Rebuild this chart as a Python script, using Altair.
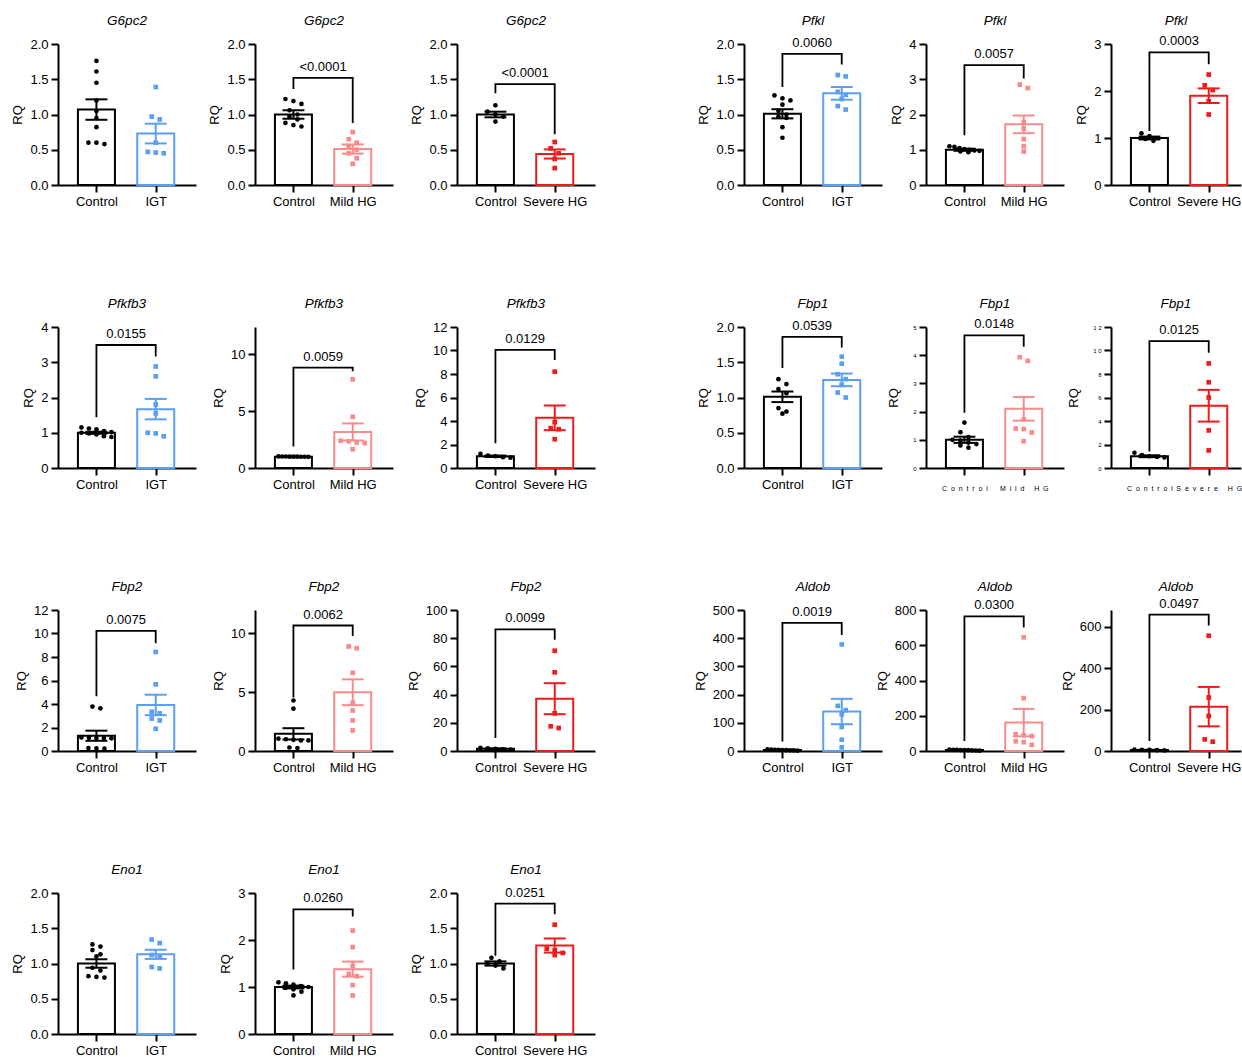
import altair as alt
import pandas as pd

FONT = "Liberation Sans"

# ---- panel identity -------------------------------------------------------
genes = ["G6pc2", "G6pc2", "G6pc2", "Pfkl", "Pfkl", "Pfkl",
         "Pfkfb3", "Pfkfb3", "Pfkfb3", "Fbp1", "Fbp1", "Fbp1",
         "Fbp2", "Fbp2", "Fbp2", "Aldob", "Aldob", "Aldob",
         "Eno1", "Eno1", "Eno1"]
cohorts = ["IGT", "Mild HG", "Severe HG"] * 7
group_names = ["Control", "IGT", "Mild HG", "Severe HG"]
group_colors = ["#000000", "#5b9ff0", "#f88b8b", "#ef1b1b"]
group_shapes = ["circle", "square", "square", "square"]

# ---- y axes ---------------------------------------------------------------
y_max = [2, 2, 2, 2, 4, 3, 4, 12.4, 12, 2, 5, 12,
         12, 12, 100, 500, 800, 680, 2, 3, 2]
y_step = [0.5, 0.5, 0.5, 0.5, 1, 1, 1, 5, 2, 0.5, 1, 2,
          2, 5, 20, 100, 200, 200, 0.5, 1, 0.5]

# ---- bar heights (mean) and SEM ------------------------------------------
ctrl_mean = [1.07, 1.00, 1.00, 1.01, 1.00, 1.00, 1.00, 1.00, 1.00, 1.01, 1.00, 1.00,
             1.30, 1.46, 1.55, 3.5, 5.0, 5.0, 1.00, 1.00, 1.00]
ctrl_sem = [0.145, 0.06, 0.04, 0.065, 0.03, 0.03, 0.03, 0.01, 0.06, 0.075, 0.11, 0.08,
            0.43, 0.48, 0.3, 0.6, 0.8, 0.8, 0.06, 0.03, 0.03]
trt_mean = [0.73, 0.51, 0.44, 1.30, 1.72, 1.90, 1.67, 3.17, 4.27, 1.25, 2.10, 5.30,
            3.92, 5.00, 37.1, 140, 161, 214, 1.13, 1.38, 1.255]
trt_sem = [0.14, 0.065, 0.065, 0.09, 0.25, 0.155, 0.29, 0.75, 1.05, 0.09, 0.42, 1.35,
           0.87, 1.1, 11.0, 45, 78, 95, 0.065, 0.16, 0.10]

# ---- significance brackets -----------------------------------------------
p_labels = ["", "<0.0001", "<0.0001", "0.0060", "0.0057", "0.0003",
            "0.0155", "0.0059", "0.0129", "0.0539", "0.0148", "0.0125",
            "0.0075", "0.0062", "0.0099", "0.0019", "0.0300", "0.0497",
            "", "0.0260", "0.0251"]
bracket_top = [0, 1.52, 1.43, 1.86, 3.40, 2.82, 3.49, 8.82, 10.05, 1.86, 4.7, 10.8,
               10.23, 10.68, 86.2, 454, 764, 658, 0, 2.65, 1.85]
bracket_left = [0, 1.36, 1.30, 1.39, 1.41, 1.15, 1.44, 1.9, 2.1, 1.42, 1.96, 1.4,
                4.65, 4.56, 9.2, 34, 57, 48, 0, 1.37, 1.11]
bracket_right = [0, 0.88, 0.72, 1.71, 3.02, 2.57, 3.16, 8.5, 9.2, 1.71, 4.3, 9.8,
                 9.16, 9.78, 78.9, 411, 701, 605, 0, 2.5, 1.7]

# ---- individual animals (RQ) ----------------------------------------------
g6pc2_igt_ctrl = [1.76, 1.61, 1.45, 1.20, 1.05, 0.95, 0.82, 0.60, 0.58, 0.60]
g6pc2_igt_trt = [1.39, 0.97, 0.93, 0.60, 0.47, 0.46, 0.45]
g6pc2_mild_ctrl = [1.22, 1.19, 1.15, 1.06, 1.00, 0.97, 0.93, 0.88, 0.85, 0.83]
g6pc2_mild_trt = [0.75, 0.65, 0.60, 0.55, 0.50, 0.45, 0.38, 0.30]
g6pc2_severe_ctrl = [1.13, 1.04, 1.00, 0.97, 0.90]
g6pc2_severe_trt = [0.61, 0.52, 0.45, 0.37, 0.24]

pfkl_igt_ctrl = [1.27, 1.23, 1.20, 1.14, 1.05, 1.00, 0.97, 0.95, 0.82, 0.67]
pfkl_igt_trt = [1.56, 1.54, 1.32, 1.28, 1.22, 1.12, 1.07]
pfkl_mild_ctrl = [1.10, 1.08, 1.05, 1.02, 1.00, 0.98, 0.97, 0.95, 0.93]
pfkl_mild_trt = [2.85, 2.75, 1.78, 1.60, 1.30, 1.10, 0.95]
pfkl_severe_ctrl = [1.10, 1.04, 1.00, 0.98, 0.94]
pfkl_severe_trt = [2.35, 2.12, 2.02, 1.78, 1.50]

pfkfb3_igt_ctrl = [1.15, 1.12, 1.10, 1.05, 1.02, 1.00, 0.98, 0.95, 0.90, 0.88]
pfkfb3_igt_trt = [2.88, 2.60, 1.80, 1.55, 1.00, 0.98, 0.90]
pfkfb3_mild_ctrl = [1.02, 1.01, 1.01, 1.00, 1.00, 1.00, 0.99, 0.99, 0.98]
pfkfb3_mild_trt = [7.80, 4.50, 2.40, 2.35, 2.25, 2.20, 1.65]
pfkfb3_severe_ctrl = [1.20, 1.05, 1.00, 0.92, 0.88]
pfkfb3_severe_trt = [8.20, 3.90, 3.40, 3.30, 2.45]

fbp1_igt_ctrl = [1.26, 1.19, 1.12, 1.06, 0.85, 0.80, 0.77]
fbp1_igt_trt = [1.58, 1.48, 1.33, 1.26, 1.18, 1.07, 1.00]
fbp1_mild_ctrl = [1.61, 1.27, 1.10, 1.00, 0.97, 0.90, 0.85, 0.80, 0.72]
fbp1_mild_trt = [3.93, 3.80, 1.72, 1.40, 1.38, 1.26, 0.95]
fbp1_severe_ctrl = [1.30, 1.10, 1.00, 0.95, 0.90]
fbp1_severe_trt = [8.90, 7.30, 6.00, 3.20, 1.50]

fbp2_igt_ctrl = [3.78, 3.63, 1.15, 1.12, 1.10, 1.10, 1.08, 0.25, 0.22, 0.20]
fbp2_igt_trt = [8.43, 5.67, 3.34, 3.20, 2.76, 2.60, 1.89]
fbp2_mild_ctrl = [4.30, 3.60, 1.05, 1.00, 0.95, 0.90, 0.90, 0.30, 0.25]
fbp2_mild_trt = [8.90, 8.75, 6.65, 4.10, 3.45, 2.60, 1.75]
fbp2_severe_ctrl = [2.20, 1.80, 1.50, 1.20, 1.00]
fbp2_severe_trt = [71.1, 55.8, 26.7, 17.5, 16.3]

aldob_igt_ctrl = [6.0, 5.0, 4.5, 4.0, 3.5, 3.0, 2.5, 2.0, 1.5]
aldob_igt_trt = [378, 160, 145, 130, 85, 40, 13]
aldob_mild_ctrl = [8.0, 7.0, 6.0, 5.5, 5.0, 4.5, 4.0, 3.0, 2.0]
aldob_mild_trt = [645, 300, 95, 90, 85, 55, 50, 35]
aldob_severe_ctrl = [7.0, 6.0, 5.0, 4.0, 3.0]
aldob_severe_trt = [556, 258, 169, 56, 45]

eno1_igt_ctrl = [1.27, 1.24, 1.19, 1.13, 1.10, 0.94, 0.90, 0.82, 0.81, 0.80]
eno1_igt_trt = [1.34, 1.29, 1.12, 1.10, 0.95, 0.93]
eno1_mild_ctrl = [1.10, 1.08, 1.05, 1.02, 1.00, 0.98, 0.95, 0.90, 0.82]
eno1_mild_trt = [2.20, 1.85, 1.45, 1.28, 1.23, 1.04, 0.82]
eno1_severe_ctrl = [1.08, 1.03, 1.00, 0.97, 0.93]
eno1_severe_trt = [1.55, 1.21, 1.19, 1.15, 1.12]

control_points = [g6pc2_igt_ctrl, g6pc2_mild_ctrl, g6pc2_severe_ctrl,
                  pfkl_igt_ctrl, pfkl_mild_ctrl, pfkl_severe_ctrl,
                  pfkfb3_igt_ctrl, pfkfb3_mild_ctrl, pfkfb3_severe_ctrl,
                  fbp1_igt_ctrl, fbp1_mild_ctrl, fbp1_severe_ctrl,
                  fbp2_igt_ctrl, fbp2_mild_ctrl, fbp2_severe_ctrl,
                  aldob_igt_ctrl, aldob_mild_ctrl, aldob_severe_ctrl,
                  eno1_igt_ctrl, eno1_mild_ctrl, eno1_severe_ctrl]
treated_points = [g6pc2_igt_trt, g6pc2_mild_trt, g6pc2_severe_trt,
                  pfkl_igt_trt, pfkl_mild_trt, pfkl_severe_trt,
                  pfkfb3_igt_trt, pfkfb3_mild_trt, pfkfb3_severe_trt,
                  fbp1_igt_trt, fbp1_mild_trt, fbp1_severe_trt,
                  fbp2_igt_trt, fbp2_mild_trt, fbp2_severe_trt,
                  aldob_igt_trt, aldob_mild_trt, aldob_severe_trt,
                  eno1_igt_trt, eno1_mild_trt, eno1_severe_trt]

# ---- geometry (in x-scale units: one unit = distance between the two bars)
STEP_PX = 59.3      # pixels between the two category centres
X_LEFT = -0.648     # left end of the x axis
BAR_HALF = 0.312    # half bar width
CAP_HALF = 0.185    # half error-bar cap width
PLOT_H = 141
TITLE_GAP = 17      # gene name baseline above the plot frame
P_FONT = 13
P_DY = 4

COLOR_SCALE = alt.Scale(domain=group_names, range=group_colors)
SHAPE_SCALE = alt.Scale(domain=group_names, range=group_shapes)


def swarm(values, px_per_unit, dot=5.0, gap=8.0, max_spread=30.0):
    """Spread points with (nearly) equal values sideways, GraphPad style."""
    order = sorted(range(len(values)), key=lambda k: -values[k])
    rows = []
    for k in order:
        if rows and (values[rows[-1][0]] - values[k]) * px_per_unit < dot:
            rows[-1].append(k)
        else:
            rows.append([k])
    offsets = [0.0] * len(values)
    for r in rows:
        n = len(r)
        d = gap if n < 2 else min(gap, max_spread / (n - 1))
        for j, k in enumerate(r):
            offsets[k] = (j - (n - 1) / 2) * d / STEP_PX
    return offsets


def spaced(text, sep):
    return sep.join(list(text))


def panel(i, width):
    grp = cohorts[i]
    names = ["Control", grp]
    tiny = genes[i] == "Fbp1" and grp != "IGT"

    ymax = y_max[i]
    px_per_unit = PLOT_H / ymax
    n_ticks = int(ymax / y_step[i] + 1e-9)
    ticks = [round(k * y_step[i], 6) for k in range(n_ticks + 1)]

    xs = alt.Scale(domain=[X_LEFT, X_LEFT + width / STEP_PX], nice=False, zero=False)
    ys = alt.Scale(domain=[0, ymax], nice=False, zero=True)

    if tiny:
        lab0, lab1 = spaced("Control", "\u00a0\u00a0"), spaced(grp, "\u00a0\u00a0")
    else:
        lab0, lab1 = "Control", grp
    xaxis = alt.Axis(values=[0, 1], labelExpr=f"datum.value == 0 ? '{lab0}' : '{lab1}'",
                     grid=False, domainColor="black", domainWidth=2,
                     tickColor="black", tickWidth=2, tickSize=7,
                     labelFont=FONT, labelFontSize=7 if tiny else 13,
                     labelColor="black", labelPadding=9 if tiny else 3,
                     labelOverlap=False)
    yaxis_kw = dict(values=ticks, grid=False, domainColor="black", domainWidth=2,
                    tickColor="black", tickWidth=2, tickSize=7,
                    labelFont=FONT, labelColor="black", labelPadding=3,
                    labelOverlap=False,
                    titleFont=FONT, titleFontSize=13, titleFontWeight="normal",
                    titleColor="black")
    label_size = 6 if tiny else 13
    if tiny:
        yaxis = alt.Axis(labelFontSize=label_size, titlePadding=12,
                         labelExpr="join(split(datum.label, ''), '\u00a0')",
                         format="d", **yaxis_kw)
    else:
        yaxis = alt.Axis(labelFontSize=label_size, titlePadding=5,
                         format=".1f" if y_step[i] < 1 else "d", **yaxis_kw)

    def X(f):
        return alt.X(f, scale=xs, axis=xaxis, title=None)

    def Y(f):
        return alt.Y(f, scale=ys, axis=yaxis, title="RQ")

    color = alt.Color("grp:N", scale=COLOR_SCALE, legend=None)

    rows = []
    for gi, (name, vals) in enumerate([("Control", control_points[i]),
                                       (grp, treated_points[i])]):
        for v, o in zip(vals, swarm(vals, px_per_unit)):
            rows.append({"grp": name, "x": gi + o, "y": v})
    pts = pd.DataFrame(rows)

    means = [ctrl_mean[i], trt_mean[i]]
    sems = [ctrl_sem[i], trt_sem[i]]
    summary = pd.DataFrame({
        "grp": names, "xc": [0.0, 1.0],
        "xl": [-BAR_HALF, 1 - BAR_HALF], "xr": [BAR_HALF, 1 + BAR_HALF],
        "m": means, "zero": [0.0, 0.0],
        "lo": [m - s for m, s in zip(means, sems)],
        "hi": [m + s for m, s in zip(means, sems)],
    })
    caps = pd.DataFrame({
        "grp": names * 2,
        "cl": [-CAP_HALF, 1 - CAP_HALF] * 2, "cr": [CAP_HALF, 1 + CAP_HALF] * 2,
        "v": list(summary["hi"]) + list(summary["lo"]),
    })

    bars = alt.Chart(summary).mark_bar(fill="white", strokeWidth=2).encode(
        x=X("xl:Q"), x2="xr", y=Y("m:Q"), y2="zero",
        stroke=alt.Stroke("grp:N", scale=COLOR_SCALE, legend=None))
    dots = alt.Chart(pts).mark_point(filled=True, size=22, opacity=1, strokeWidth=0).encode(
        x=X("x:Q"), y=Y("y:Q"), color=color,
        shape=alt.Shape("grp:N", scale=SHAPE_SCALE, legend=None))
    err = alt.Chart(summary).mark_rule(strokeWidth=2).encode(
        x=X("xc:Q"), y=Y("lo:Q"), y2="hi", color=color)
    cap = alt.Chart(caps).mark_rule(strokeWidth=2).encode(
        x=X("cl:Q"), x2="cr", y=Y("v:Q"), color=color)
    layers = [bars, dots, err, cap]

    # how far labels and p-values reach above the plot frame; the gene
    # name is placed relative to that reach, so compensate for it
    reach = label_size / 2 if abs(ticks[-1] - ymax) < 1e-9 else 0.0
    if p_labels[i]:
        br = pd.DataFrame({"bx": [0.0, 0.0, 1.0, 1.0],
                           "by": [bracket_left[i], bracket_top[i], bracket_top[i], bracket_right[i]],
                           "k": [0, 1, 2, 3]})
        lab = pd.DataFrame({"tx": [0.5], "ty": [bracket_top[i]], "p": [p_labels[i]]})
        layers.append(alt.Chart(br).mark_line(color="black", strokeWidth=1.8).encode(
            x=X("bx:Q"), y=Y("by:Q"), order="k:Q"))
        layers.append(alt.Chart(lab).mark_text(font=FONT, fontSize=P_FONT, color="black",
                                               baseline="bottom", dy=-P_DY).encode(
            x=X("tx:Q"), y=Y("ty:Q"), text="p:N"))
        reach = max(reach, P_DY + P_FONT - (ymax - bracket_top[i]) * px_per_unit)

    return alt.layer(*layers).properties(
        width=width, height=PLOT_H,
        title=alt.TitleParams(genes[i], font=FONT, fontSize=13.5, fontStyle="italic",
                              fontWeight="normal", color="black", anchor="middle",
                              frame="group", offset=max(0.0, TITLE_GAP - reach)))


def spacer(width):
    return alt.Chart(pd.DataFrame({"v": [0]})).mark_point(opacity=0).encode(
        x=alt.X("v:Q", axis=None), y=alt.Y("v:Q", axis=None)
    ).properties(width=width, height=1)


grid_rows = [[0, 1, 2, 3, 4, 5], [6, 7, 8, 9, 10, 11],
             [12, 13, 14, 15, 16, 17], [18, 19, 20]]
panel_widths = [138, 138, 138, 138, 138, 130]
gap_widths = [59, 64, 149, 44, 47]

cells = []
for row in grid_rows:
    for j, idx in enumerate(row):
        cells.append(panel(idx, panel_widths[j]))
        if j < len(row) - 1:
            cells.append(spacer(gap_widths[j]))

chart = alt.concat(*cells, columns=11, spacing={"row": 142, "column": 0},
                   bounds="flush").properties(
    padding={"left": 11, "top": 13, "right": 0, "bottom": 0},
    background="white",
).configure_view(strokeWidth=0)

chart.save("out.html", embed_options={"renderer": "svg", "actions": False})
